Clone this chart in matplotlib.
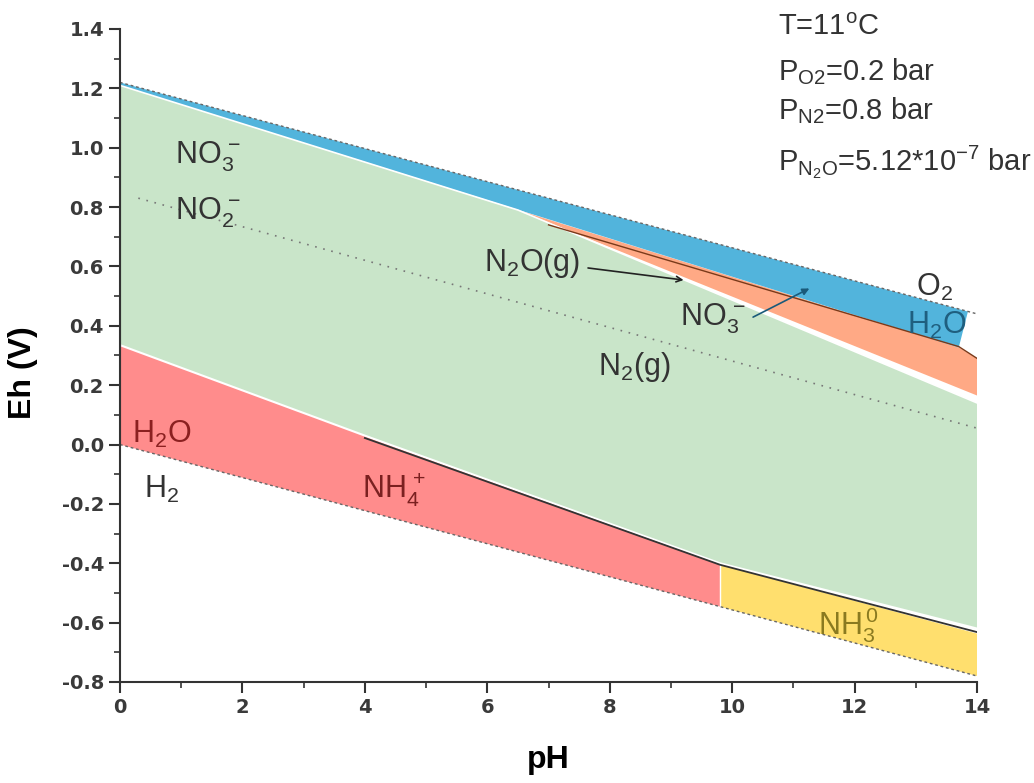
import matplotlib.pyplot as plt
import numpy as np
from matplotlib.ticker import MultipleLocator

plt.rcParams['font.family'] = ['Liberation Sans', 'DejaVu Sans']
plt.rcParams['mathtext.fontset'] = 'custom'
plt.rcParams['mathtext.rm'] = 'Liberation Sans'
plt.rcParams['mathtext.it'] = 'Liberation Sans'

# Limiti di stabilita dell'acqua (Eh vs pH)
ph_water = [0, 14]
eh_o2 = [1.22, 0.44]     # O2 / H2O
eh_h2 = [0.0, -0.78]     # H2O / H2

# Campi di stabilita (vertici pH, Eh)
blue_ph = [0, 13.85, 13.7, 0]
blue_eh = [1.22, 0.448, 0.327, 1.21]

orange_ph = [6.5, 13.7, 14.0, 14.0, 6.5]
orange_eh = [0.79, 0.327, 0.29, 0.165, 0.79]

green_ph = [0, 6.5, 14, 14, 9.8, 4, 0]
green_eh = [1.21, 0.79, 0.14, -0.62, -0.40, 0.03, 0.335]

red_ph = [0, 4, 9.8, 9.8, 0]
red_eh = [0.335, 0.03, -0.40, -0.546, 0.0]

yellow_ph = [9.8, 14, 14, 9.8]
yellow_eh = [-0.405, -0.637, -0.78, -0.546]

# Linee di confine
nh4_line_ph = [4, 9.8, 14]
nh4_line_eh = [0.022, -0.405, -0.632]
no3_line_ph = [7.0, 13.7, 14.0]
no3_line_eh = [0.74, 0.33, 0.29]
no2_line_ph = [0.3, 14]
no2_line_eh = [0.83, 0.055]

fig = plt.figure(figsize=(10.34, 7.83), dpi=100)
ax = fig.add_axes([0.116, 0.129, 0.829, 0.834])

ax.fill(green_ph, green_eh, color='#c9e5c9', lw=0)
ax.fill(red_ph, red_eh, color='#ff8c8c', lw=0)
ax.fill(yellow_ph, yellow_eh, color='#ffdf6e', lw=0)
ax.fill(orange_ph, orange_eh, color='#ffa985', lw=0)
ax.fill(blue_ph, blue_eh, color='#52b4dc', lw=0)

# bordi bianchi tra i campi
ax.plot([0, 4, 9.8, 14], [0.335, 0.03, -0.40, -0.62], color='white', lw=1.5)
ax.plot([0, 6.5, 14], [1.21, 0.79, 0.14], color='white', lw=1.2)
ax.plot([9.8, 9.8], [-0.40, -0.546], color='white', lw=1)

ax.plot(ph_water, eh_o2, color='#666666', lw=1, ls=(0, (2, 2)))
ax.plot(ph_water, eh_h2, color='#666666', lw=1, ls=(0, (2, 2)))
ax.plot(nh4_line_ph, nh4_line_eh, color='#333333', lw=1.3)
ax.plot(no3_line_ph, no3_line_eh, color='#7a3a1a', lw=1)
ax.plot(no2_line_ph, no2_line_eh, color='#777777', lw=1.2, ls=(0, (1, 4)))
ax.plot([0, 0], [0.335, 1.21], color='#3d6e3d', lw=1.5)
ax.plot([0, 0], [0.0, 0.335], color='#b04040', lw=1.5)

# etichette
fs = 22
lab = dict(fontsize=fs, color='#333333')
ax.text(0.9, 0.97, r'NO$_3^{\,-}$', ha='left', va='center', **lab)
ax.text(0.9, 0.78, r'NO$_2^{\,-}$', ha='left', va='center', **lab)
ax.text(5.95, 0.61, r'N$_2$O(g)', ha='left', va='center', **lab)
ax.annotate('', xy=(9.25, 0.553), xytext=(7.6, 0.596),
            arrowprops=dict(arrowstyle='->', color='#222222', lw=1.2))
ax.text(9.15, 0.425, r'NO$_3^{\,-}$', ha='left', va='center', **lab)
ax.annotate('', xy=(11.3, 0.53), xytext=(10.3, 0.425),
            arrowprops=dict(arrowstyle='-|>', color='#1a5a7a', lw=1.2))
ax.text(7.8, 0.26, r'N$_2$(g)', ha='left', va='center', **lab)
ax.text(13.0, 0.53, r'O$_2$', ha='left', va='center', **lab)
ax.text(12.85, 0.40, r'H$_2$O', ha='left', va='center', fontsize=fs, color='#1f5f7f')
ax.text(0.2, 0.035, r'H$_2$O', ha='left', va='center', fontsize=fs, color='#8b2020')
ax.text(0.4, -0.15, r'H$_2$', ha='left', va='center', **lab)
ax.text(3.95, -0.15, r'NH$_4^{\,+}$', ha='left', va='center', fontsize=fs, color='#7a2020')
ax.text(11.4, -0.61, r'NH$_3^{\,0}$', ha='left', va='center', fontsize=fs, color='#8a7a20')

info = dict(fontsize=21, color='#333333', ha='left', va='center', clip_on=False)
ax.text(10.75, 1.406, r'T=11$^{\rm o}$C', **info)
ax.text(10.75, 1.258, r'P$_{\rm O2}$=0.2 bar', **info)
ax.text(10.75, 1.126, r'P$_{\rm N2}$=0.8 bar', **info)
ax.text(10.75, 0.951, r'P$_{\rm N_2O}$=5.12*10$^{-7}$ bar', **info)

ax.set_xlim(0, 14)
ax.set_ylim(-0.8, 1.4)
ax.xaxis.set_major_locator(MultipleLocator(2))
ax.xaxis.set_minor_locator(MultipleLocator(1))
ax.yaxis.set_major_locator(MultipleLocator(0.2))
ax.yaxis.set_minor_locator(MultipleLocator(0.1))
ax.yaxis.set_major_formatter(plt.FuncFormatter(lambda v, p: f'{v:.1f}'))
for s in ['top', 'right']:
    ax.spines[s].set_visible(False)
for s in ['left', 'bottom']:
    ax.spines[s].set_linewidth(1.5)
    ax.spines[s].set_color('#333333')
ax.tick_params(which='major', length=8, width=1.5, color='#333333',
               labelsize=14, labelcolor='#3a3a3a')
ax.tick_params(which='minor', length=4, width=1.2, color='#333333')
for t in ax.get_xticklabels() + ax.get_yticklabels():
    t.set_family('DejaVu Sans')
    t.set_fontweight('bold')

ax.set_xlabel('pH', fontsize=23, fontweight='bold')
ax.set_ylabel('Eh (V)', fontsize=23, fontweight='bold')
ax.xaxis.set_label_coords(0.5, -0.096)
ax.yaxis.set_label_coords(-0.096, 0.473)

plt.savefig('out.png', dpi=100)
